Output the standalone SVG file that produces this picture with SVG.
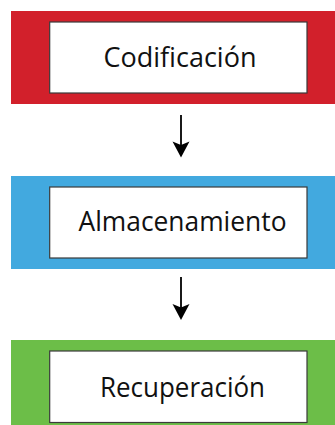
<svg xmlns="http://www.w3.org/2000/svg" width="335" height="425" viewBox="0 0 335 425">
<defs>
<style>
.box{fill:#fff;stroke:#3a3a3a;stroke-width:1.2}
.lbl{font-family:"Open Sans","Noto Sans",sans-serif;font-size:27.5px;fill:#111;text-anchor:middle}
.conn{stroke:#000;stroke-width:1.8;fill:none}
.head{fill:#000}
</style>
</defs>
<rect width="335" height="425" fill="#fff"/>
<g id="codificacion">
<rect x="11" y="11" width="324" height="93" fill="#D2202B"/>
<rect class="box" x="49.7" y="22" width="257.3" height="71"/>
<text class="lbl" x="180" y="66.5" textLength="153" lengthAdjust="spacingAndGlyphs">Codificación</text>
</g>
<g id="almacenamiento">
<rect x="11" y="176" width="324" height="93" fill="#42A9DF"/>
<rect class="box" x="49.7" y="187" width="257.3" height="71"/>
<text class="lbl" x="182.5" y="230.5" textLength="208" lengthAdjust="spacingAndGlyphs">Almacenamiento</text>
</g>
<g id="recuperacion">
<rect x="11" y="340" width="324" height="85" fill="#6CBE48"/>
<rect class="box" x="49.7" y="351" width="257.3" height="71.5"/>
<text class="lbl" x="182.5" y="397" textLength="165" lengthAdjust="spacingAndGlyphs">Recuperación</text>
</g>
<g id="connectors">
<line class="conn" x1="181" y1="115" x2="181" y2="146"/>
<path class="head" d="M172.5 141.5 L181 157.5 L189.5 141.5 L181 145 Z"/>
<line class="conn" x1="181" y1="277" x2="181" y2="308"/>
<path class="head" d="M172.5 304 L181 320 L189.5 304 L181 307.5 Z"/>
</g>
</svg>
